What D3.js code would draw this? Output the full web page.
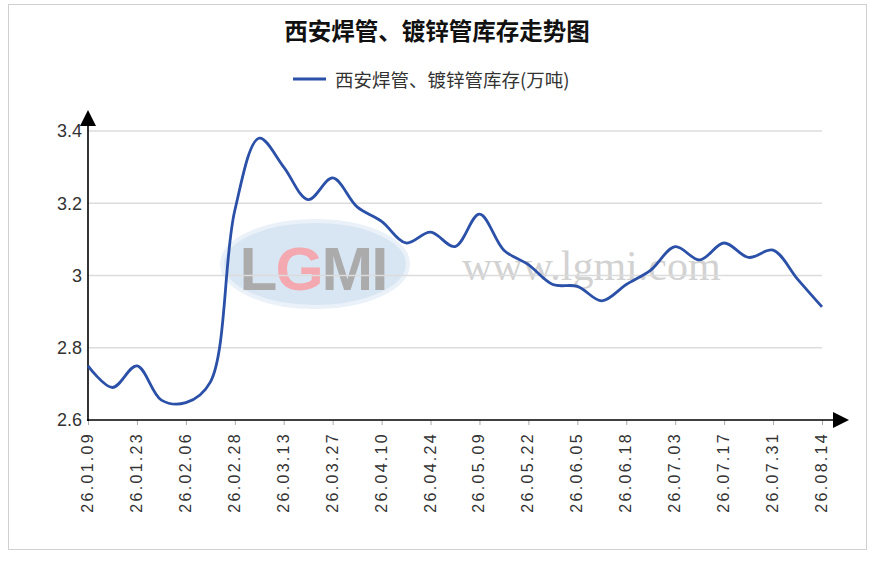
<!DOCTYPE html>
<html>
<head>
<meta charset="utf-8">
<script src="https://cdn.jsdelivr.net/npm/d3@7"></script>
<style>
  body { margin: 0; background: #fff; }
  svg { display: block; font-family: "Liberation Sans", Arial, sans-serif; }
</style>
</head>
<body>
<div id="chart"></div>
<script>
// weekly stock readings, 万吨
var dates = ["26.01.09","26.01.16","26.01.23","26.01.30","26.02.06","26.02.13",
  "26.02.28","26.03.06","26.03.13","26.03.20","26.03.27","26.04.03","26.04.10",
  "26.04.17","26.04.24","26.04.30","26.05.09","26.05.15","26.05.22","26.05.29",
  "26.06.05","26.06.12","26.06.18","26.06.26","26.07.03","26.07.10","26.07.17",
  "26.07.24","26.07.31","26.08.07","26.08.14"]
var stock = [2.75, 2.69, 2.75, 2.655, 2.648, 2.705,
  3.18, 3.38, 3.30, 3.21, 3.27, 3.19, 3.15,
  3.09, 3.12, 3.08, 3.17, 3.07, 3.03, 2.975,
  2.97, 2.93, 2.975, 3.015, 3.08, 3.043, 3.09,
  3.05, 3.07, 2.99, 2.913]
var yTicks = [2.6, 2.8, 3.0, 3.2, 3.4]
var title = "西安焊管、镀锌管库存走势图"
var seriesName = "西安焊管、镀锌管库存(万吨)"

var width = 874, height = 562
var svg = d3.select("#chart").append("svg")
  .attr("width", width)
  .attr("height", height)

svg.append("rect")
  .attr("x", 8.5).attr("y", 4.5)
  .attr("width", 858).attr("height", 545)
  .attr("fill", "#fff").attr("stroke", "#d0d0d0")

var x = d3.scalePoint().domain(dates).range([88, 822])
var y = d3.scaleLinear().domain([2.6, 3.4]).range([420, 131])

// watermark
var wm = svg.append("g")
wm.append("ellipse")
  .attr("cx", 315).attr("cy", 264).attr("rx", 93).attr("ry", 43)
  .attr("fill", "#d8e6f4").attr("stroke", "#eaf1f8").attr("stroke-width", 4)
var lg = wm.append("text")
  .attr("x", 313).attr("y", 290)
  .attr("text-anchor", "middle")
  .attr("font-size", 62).attr("font-weight", "bold")
  .attr("letter-spacing", -2)
  .attr("fill", "#ababab")
lg.append("tspan").text("L")
lg.append("tspan").attr("fill", "#f4a8b0").text("G")
lg.append("tspan").text("MI")
wm.append("text")
  .attr("x", 462).attr("y", 280)
  .attr("font-family", "'Liberation Serif', serif")
  .attr("font-size", 42)
  .attr("fill", "#d2d2d2")
  .text("www.lgmi.com")

// grid
svg.append("g").selectAll("line")
  .data(yTicks.slice(1)).enter()
  .append("line")
  .attr("x1", 88).attr("x2", 822)
  .attr("y1", d => y(d)).attr("y2", d => y(d))
  .attr("stroke", "#dcdcdc").attr("stroke-width", 1.5)

// y axis
var yAxis = svg.append("g")
  .attr("transform", "translate(88,0)")
  .call(d3.axisLeft(y).tickValues(yTicks).tickSize(0).tickPadding(6)
    .tickFormat(d => +d.toFixed(1)))
yAxis.select(".domain").remove()
yAxis.selectAll("text")
  .attr("font-size", 18).attr("fill", "#333")
  .attr("font-family", "'Liberation Sans', Arial, sans-serif")

// x axis
var xAxis = svg.append("g")
  .attr("transform", "translate(0,420)")
  .call(d3.axisBottom(x).tickValues(dates.filter((d, i) => i % 2 == 0)).tickSize(5))
xAxis.select(".domain").remove()
xAxis.selectAll(".tick line").attr("stroke", "#aaa")
xAxis.selectAll("text")
  .attr("font-size", 16).attr("fill", "#333")
  .attr("font-family", "'Liberation Sans', Arial, sans-serif")
  .attr("letter-spacing", 2.3)
  .attr("text-anchor", "end")
  .attr("dy", null)
  .attr("dominant-baseline", "central")
  .attr("transform", "rotate(-90)")
  .attr("x", -12).attr("y", -1)

// axis lines + arrows
svg.append("line")
  .attr("x1", 88).attr("x2", 88).attr("y1", 421).attr("y2", 122)
  .attr("stroke", "#000").attr("stroke-width", 1.6)
svg.append("line")
  .attr("x1", 87).attr("x2", 836).attr("y1", 420).attr("y2", 420)
  .attr("stroke", "#000").attr("stroke-width", 1.6)
svg.append("path")
  .attr("d", "M88,110L96,126L80,126Z").attr("fill", "#000")
svg.append("path")
  .attr("d", "M849,420L833,412L833,428Z").attr("fill", "#000")

// series line
var line = d3.line()
  .x((d, i) => x(dates[i]))
  .y(d => y(d))
  .curve(d3.curveCatmullRom.alpha(0.5))

svg.append("path")
  .datum(stock)
  .attr("d", line)
  .attr("fill", "none")
  .attr("stroke", "#2b50a8")
  .attr("stroke-width", 2.8)
  .attr("stroke-linejoin", "round")

// title + legend
svg.append("text")
  .attr("x", 437).attr("y", 40)
  .attr("text-anchor", "middle")
  .attr("font-family", "'Noto Sans CJK SC', sans-serif")
  .attr("font-size", 23.5).attr("font-weight", "bold")
  .attr("fill", "#111")
  .text(title)

svg.append("line")
  .attr("x1", 293).attr("x2", 326).attr("y1", 79).attr("y2", 79)
  .attr("stroke", "#2b50a8").attr("stroke-width", 2.8)
svg.append("text")
  .attr("x", 335).attr("y", 79)
  .attr("dominant-baseline", "central")
  .attr("font-family", "'Noto Sans CJK SC', sans-serif")
  .attr("font-size", 18.5)
  .attr("fill", "#333")
  .text(seriesName)
</script>
</body>
</html>
